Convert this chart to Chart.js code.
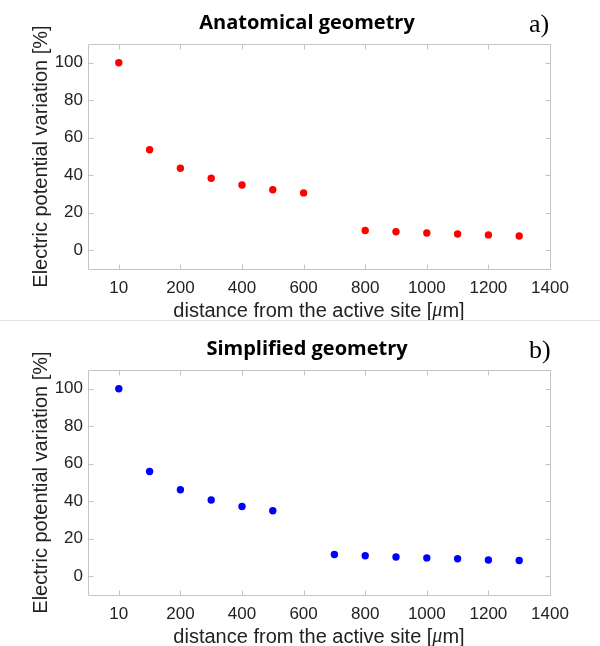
<!DOCTYPE html>
<html><head><meta charset="utf-8">
<script src="https://cdn.jsdelivr.net/npm/chart.js@4.4.1/dist/chart.umd.min.js"></script>
<style>
html,body{margin:0;padding:0;background:#fff;}
#wrap{position:relative;width:600px;height:646px;overflow:hidden;background:#fff;}
.panel{position:absolute;left:0;width:600px;height:320px;}
#sep{position:absolute;left:0;top:320px;width:600px;height:1px;background:#e3e3e3;}
</style></head><body>
<div id="wrap">
<div class="panel" style="top:0"><canvas id="cA"></canvas></div>
<div id="sep"></div>
<div class="panel" style="top:326px"><canvas id="cB"></canvas></div>
</div>
<script>
// ---- data ----
const distA = [0, 100, 200, 300, 400, 500, 600, 800, 900, 1000, 1100, 1200, 1300];
const valA  = [100, 53.6, 43.7, 38.4, 34.8, 32.3, 30.6, 10.5, 9.9, 9.2, 8.7, 8.2, 7.6];
const distB = [0, 100, 200, 300, 400, 500, 700, 800, 900, 1000, 1100, 1200, 1300];
const valB  = [100, 55.9, 46.1, 40.7, 37.2, 34.9, 11.6, 10.9, 10.3, 9.8, 9.3, 8.7, 8.4];
const xTickValues = [0, 200, 400, 600, 800, 1000, 1200, 1400];
const xTickLabels = ['10', '200', '400', '600', '800', '1000', '1200', '1400'];
const yTickValues = [0, 20, 40, 60, 80, 100];
const titleA = 'Anatomical geometry';
const titleB = 'Simplified geometry';
const xTitleParts = ['distance from the active site [', '\u03BC', 'm]'];
const yTitle = 'Electric potential variation [%]';

const SANS = '"Liberation Sans", Arial, sans-serif';
const TXT = '#222222';
const FRAME = '#c4c4c4';

const framePlugin = {
  id: 'frameTicks',
  beforeDatasetsDraw(chart) {
    const {ctx, chartArea: a, scales: {x, y}} = chart;
    ctx.save();
    ctx.strokeStyle = FRAME;
    ctx.lineWidth = 1;
    ctx.beginPath();
    const L = Math.round(a.left) + 0.5, R = Math.round(a.right) + 0.5;
    const T = Math.round(a.top) + 0.5, B = Math.round(a.bottom) + 0.5;
    ctx.rect(L, T, R - L, B - T);
    const tl = 5;
    x.ticks.forEach(t => {
      const px = Math.round(x.getPixelForValue(t.value)) + 0.5;
      ctx.moveTo(px, B); ctx.lineTo(px, B - tl);
      ctx.moveTo(px, T); ctx.lineTo(px, T + tl);
    });
    y.ticks.forEach(t => {
      const py = Math.round(y.getPixelForValue(t.value)) + 0.5;
      ctx.moveTo(L, py); ctx.lineTo(L + tl, py);
      ctx.moveTo(R, py); ctx.lineTo(R - tl, py);
    });
    ctx.stroke();
    ctx.restore();
  },
  afterDraw(chart, args, opts) {
    const {ctx, chartArea: a} = chart;
    ctx.save();
    // panel title
    ctx.fillStyle = '#000';
    ctx.textBaseline = 'middle';
    ctx.textAlign = 'center';
    ctx.font = 'bold 20px "Open Sans", sans-serif';
    ctx.fillText(opts.title, 307, 23);
    // tag
    ctx.textAlign = 'left';
    ctx.font = '26px "Liberation Serif", serif';
    ctx.fillText(opts.tag, 529, 25);
    // x axis title with italic mu
    const fonts = ['20px ' + SANS, 'italic 20px "Liberation Serif", serif', '20px ' + SANS];
    let w = 0;
    const ws = xTitleParts.map((p, i) => { ctx.font = fonts[i]; const m = ctx.measureText(p).width; w += m; return m; });
    let sx = (a.left + a.right) / 2 - w / 2;
    ctx.fillStyle = TXT;
    xTitleParts.forEach((p, i) => { ctx.font = fonts[i]; ctx.fillText(p, sx, 311); sx += ws[i]; });
    ctx.restore();
  }
};

function makeChart(id, xs, ys, color, title, tag) {
  return new Chart(document.getElementById(id), {
    type: 'scatter',
    data: {
      datasets: [{
        data: xs.map((v, i) => ({x: v, y: ys[i]})),
        backgroundColor: color,
        borderWidth: 0,
        pointRadius: 3.7,
        pointHoverRadius: 3.7
      }]
    },
    options: {
      animation: false,
      responsive: true,
      maintainAspectRatio: false,
      devicePixelRatio: 1,
      layout: {padding: {left: 0, right: 50, top: 44, bottom: 0}},
      plugins: {
        legend: {display: false},
        tooltip: {enabled: false},
        frameTicks: {title: title, tag: tag}
      },
      scales: {
        x: {
          type: 'linear', min: -100, max: 1400,
          afterBuildTicks: s => { s.ticks = xTickValues.map(v => ({value: v})); },
          afterFit: s => { s.height = 51; },
          grid: {display: false, drawTicks: false},
          border: {display: false},
          ticks: {
            padding: 9, color: TXT, maxRotation: 0, autoSkip: false,
            font: {family: SANS, size: 17},
            callback: v => xTickLabels[xTickValues.indexOf(v)]
          }
        },
        y: {
          type: 'linear', min: -10, max: 110,
          afterBuildTicks: s => { s.ticks = yTickValues.map(v => ({value: v})); },
          afterFit: s => { s.width = 88; },
          grid: {display: false, drawTicks: false},
          border: {display: false},
          ticks: {padding: 5, color: TXT, font: {family: SANS, size: 17}},
          title: {
            display: true, text: yTitle, color: TXT,
            font: {family: SANS, size: 20},
            padding: {top: 29, bottom: 0}
          }
        }
      }
    },
    plugins: [framePlugin]
  });
}

makeChart('cA', distA, valA, '#ff0000', titleA, 'a)');
makeChart('cB', distB, valB, '#0000ff', titleB, 'b)');
</script>
</body></html>
